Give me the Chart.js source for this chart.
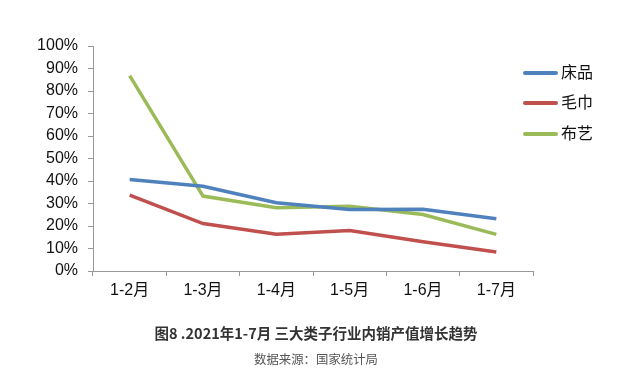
<!DOCTYPE html>
<html><head><meta charset="utf-8">
<script src="https://cdn.jsdelivr.net/npm/chart.js@4/dist/chart.umd.min.js"></script>
<style>
html,body{margin:0;padding:0;background:#fff;}
#wrap{position:relative;width:632px;height:386px;}
canvas{position:absolute;left:0;top:0;}
.leg{position:absolute;left:523px;font:16px "Noto Sans CJK SC",sans-serif;color:#111;height:20px;line-height:20px;}
.leg i{display:inline-block;width:35px;height:4px;vertical-align:middle;margin-right:3px;border-radius:2px;position:relative;top:-1px;}
.t1{position:absolute;left:0;width:632px;text-align:center;top:322px;font:bold 14.5px "Noto Sans CJK SC",sans-serif;color:#333;}
.t2{position:absolute;left:0;width:632px;text-align:center;top:350px;font:12.4px "Noto Sans CJK SC",sans-serif;color:#555;}
</style></head>
<body><div id="wrap"><canvas id="c" width="632" height="386"></canvas>
<div class="leg" style="top:61px"><i style="background:#4f81bd"></i>床品</div>
<div class="leg" style="top:91px"><i style="background:#c0504d"></i>毛巾</div>
<div class="leg" style="top:122px"><i style="background:#9bbb59"></i>布艺</div>
<div class="t1">图8 .2021年1-7月 三大类子行业内销产值增长趋势</div>
<div class="t2">数据来源：国家统计局</div>
</div>
<script>
const categories = ["1-2月","1-3月","1-4月","1-5月","1-6月","1-7月"];
const bedding = [40.7, 37.7, 30.3, 27.3, 27.4, 23.2];
const towel = [33.7, 21.1, 16.3, 18.0, 13.0, 8.4];
const fabric = [86.8, 33.3, 28.1, 28.8, 25.1, 16.3];
const seriesNames = ["床品","毛巾","布艺"];
const colors = ["#4f81bd","#c0504d","#9bbb59"];
const yTicks = [0,10,20,30,40,50,60,70,80,90,100];

const mk = (name, data, color) => ({label:name, data, borderColor:color, backgroundColor:color, borderWidth:3.5, pointRadius:0, tension:0, fill:false});
new Chart(document.getElementById('c'), {
  type:'line',
  data:{labels:categories, datasets:[mk(seriesNames[0],bedding,colors[0]),mk(seriesNames[1],towel,colors[1]),mk(seriesNames[2],fabric,colors[2])]},
  options:{
    responsive:false, animation:false,
    layout:{padding:{left:0,top:46,right:99,bottom:0}},
    plugins:{legend:{display:false},tooltip:{enabled:false}},
    scales:{
      x:{offset:true,
        grid:{offset:true,drawOnChartArea:false,drawTicks:true,tickLength:5,color:'#999'},
        border:{color:'#999',width:1},
        ticks:{color:'#111',font:{family:'"Liberation Sans","Noto Sans CJK SC",sans-serif',size:16},padding:5,maxRotation:0},
        afterFit(s){s.height=115;}
      },
      y:{min:0,max:100,
        afterBuildTicks(s){s.ticks=yTicks.map(v=>({value:v}));},
        grid:{drawOnChartArea:false,drawTicks:true,tickLength:5,color:'#999'},
        border:{color:'#999',width:1},
        ticks:{color:'#111',font:{family:'"Liberation Sans",sans-serif',size:16},padding:10,callback:v=>v+'%'},
        afterFit(s){s.width=93;}
      }
    }
  }
});
</script></body></html>
